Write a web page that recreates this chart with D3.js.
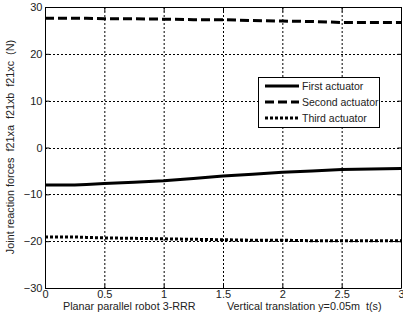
<!DOCTYPE html>
<html><head><meta charset="utf-8">
<script src="https://cdn.jsdelivr.net/npm/d3@7"></script>
<style>body{margin:0;background:#fff}svg{display:block}text{font-family:"Liberation Sans",Arial,sans-serif;fill:#222}</style>
</head><body>
<svg id="c" width="403" height="321"></svg>
<script>
const tValues = [0,0.25,0.35,0.5,0.75,1,1.25,1.5,1.75,2,2.25,2.5,2.75,3];
const firstActuator  = [-8.0,-8.0,-7.9,-7.7,-7.4,-7.1,-6.6,-6.1,-5.7,-5.3,-5.0,-4.7,-4.6,-4.5];
const secondActuator = [27.6,27.6,27.6,27.5,27.5,27.4,27.3,27.3,27.1,27.0,26.9,26.7,26.7,26.7];
const thirdActuator  = [-19.1,-19.1,-19.2,-19.3,-19.4,-19.5,-19.6,-19.7,-19.8,-19.8,-19.9,-19.9,-19.9,-19.9];
const xTicks = [0,0.5,1,1.5,2,2.5,3];
const yTicks = [-30,-20,-10,0,10,20,30];
const seriesNames = ["First actuator","Second actuator","Third actuator"];
const yLabel = "Joint reaction forces  f21xa  f21xb  f21xc  (N)";
const xLabel1 = "Planar parallel robot 3-RRR";
const xLabel2 = "Vertical translation y=0.05m  t(s)";

const svg = d3.select("#c");
const L=45, R=401, T=7, B=288;
const x = d3.scaleLinear().domain([0,3]).range([L,R]);
const y = d3.scaleLinear().domain([-30,30]).range([B,T]);

// grid
const g = svg.append("g");
g.selectAll(".gx").data(xTicks.slice(1,-1)).enter().append("line")
  .attr("x1",d=>x(d)+0.5).attr("x2",d=>x(d)+0.5).attr("y1",T).attr("y2",B)
  .attr("stroke","#000").attr("stroke-width",1).attr("stroke-dasharray","2,2");
g.selectAll(".gy").data(yTicks.slice(1,-1)).enter().append("line")
  .attr("y1",d=>Math.round(y(d))+0.5).attr("y2",d=>Math.round(y(d))+0.5).attr("x1",L).attr("x2",R)
  .attr("stroke","#000").attr("stroke-width",1).attr("stroke-dasharray","2,2");

// axes (ticks inward)
const xa = svg.append("g").attr("transform",`translate(0,${B+0.5})`)
  .call(d3.axisBottom(x).tickValues(xTicks).tickSize(-4).tickPadding(2).tickFormat(d3.format("")));
const xt = svg.append("g").attr("transform",`translate(0,${T+0.5})`)
  .call(d3.axisTop(x).tickValues(xTicks).tickSize(-4).tickFormat(""));
const ya = svg.append("g").attr("transform",`translate(${L+0.5},0)`)
  .call(d3.axisLeft(y).tickValues(yTicks).tickSize(-4).tickPadding(3));
const yr = svg.append("g").attr("transform",`translate(${R+0.5},0)`)
  .call(d3.axisRight(y).tickValues(yTicks).tickSize(-4).tickFormat(""));
[xa,xt,ya,yr].forEach(a=>{a.select(".domain").attr("stroke","#000");a.selectAll("line").attr("stroke","#000");
  a.selectAll("text").attr("font-size",11).attr("font-family","Liberation Sans, Arial, sans-serif").attr("fill","#222");});
xa.select(".domain").attr("d",`M${L},0H${R}`);
ya.select(".domain").attr("d",`M0,${T}V${B}`);
xt.select(".domain").attr("d",`M${L},0H${R}`);
yr.select(".domain").attr("d",`M0,${T}V${B}`);
// keep last x tick label inside the picture
xa.selectAll(".tick text").filter(d=>d===3).attr("text-anchor","end").attr("dx","3");

// lines
const styles = [{dash:null,w:3},{dash:"9,4",w:3},{dash:"3,2",w:3}];
const data = [firstActuator,secondActuator,thirdActuator];
const line = d3.line().x((d,i)=>x(tValues[i])).y(d=>y(d));
data.forEach((s,k)=>{
  svg.append("path").datum(s).attr("d",line).attr("fill","none").attr("stroke","#000")
    .attr("stroke-width",styles[k].w).attr("stroke-dasharray",styles[k].dash);
});

// legend
const lg = svg.append("g");
lg.append("rect").attr("x",258.5).attr("y",77.5).attr("width",121).attr("height",50)
  .attr("fill","#fff").attr("stroke","#000");
const rows=[86,102,118];
seriesNames.forEach((n,k)=>{
  lg.append("line").attr("x1",265).attr("x2",299).attr("y1",rows[k]).attr("y2",rows[k])
    .attr("stroke","#000").attr("stroke-width",3).attr("stroke-dasharray",styles[k].dash);
  lg.append("text").attr("x",302).attr("y",rows[k]+4).attr("font-size",10.5).text(n);
});

// labels
svg.append("text").attr("transform","translate(14,147) rotate(-90)").attr("text-anchor","middle")
  .attr("font-size",10.8).style("white-space","pre").text(yLabel);
svg.append("text").attr("x",63).attr("y",310).attr("font-size",10.8).text(xLabel1);
svg.append("text").attr("x",227).attr("y",310).attr("font-size",10.8).style("white-space","pre").text(xLabel2);
</script>
</body></html>
